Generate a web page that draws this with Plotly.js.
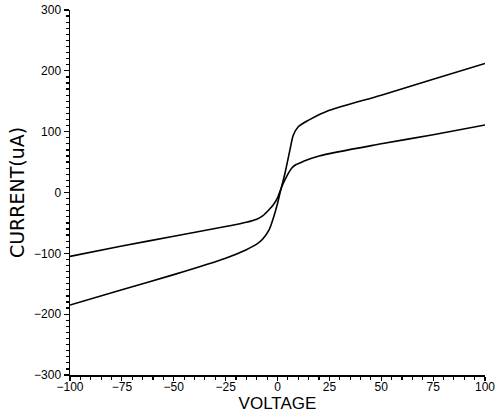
<!DOCTYPE html>
<html><head><meta charset="utf-8">
<script src="https://cdn.plot.ly/plotly-3.0.1.min.js"></script>
<style>html,body{margin:0;padding:0;background:#fff}#chart{width:502px;height:414px}</style>
</head><body><div id="chart"></div>
<script>
// Curve A (steeper, larger swing)
const voltageA = [-100, -75, -50, -25, -15, -10, -7, -4, -2, 0, 1.2, 3.5, 6, 7.6, 10, 15, 25, 50, 75, 100];
const currentA = [-185, -160, -135, -108, -94, -85, -76, -61, -42, -18, -1, 30, 70, 94, 108, 119, 135, 160, 186, 212];
// Curve B (flatter)
const voltageB = [-100, -75, -50, -25, -15, -10, -7, -4, -2, 0, 1.2, 3.6, 6.8, 9, 12.4, 20, 50, 75, 100];
const currentB = [-105, -88, -72, -56, -49, -44, -38, -28, -20, -9, 2, 21, 40, 46, 51, 60, 80, 95, 111];

const xTickVals = [-100, -75, -50, -25, 0, 25, 50, 75, 100];
const xTickText = ['−100', '−75', '−50', '−25', '0', '25', '50', '75', '100'];
const yTickVals = [-300, -200, -100, 0, 100, 200, 300];
const yTickText = ['−300', '−200', '−100', '0', '100', '200', '300'];
const xTitle = 'VOLTAGE';
const yTitle = 'CURRENT(uA)';

const lineStyle = {color: '#000', width: 1.6, shape: 'spline', smoothing: 0.8};
const traces = [
  {x: voltageA, y: currentA, mode: 'lines', line: lineStyle, hoverinfo: 'skip'},
  {x: voltageB, y: currentB, mode: 'lines', line: lineStyle, hoverinfo: 'skip'}
];
const fam = 'Liberation Sans, Arial, sans-serif';
const layout = {
  width: 502, height: 414,
  margin: {l: 70, r: 17, t: 10, b: 39},
  paper_bgcolor: '#fff', plot_bgcolor: '#fff',
  showlegend: false,
  font: {family: fam, color: '#000'},
  xaxis: {
    range: [-100, 100], tickvals: xTickVals, ticktext: xTickText,
    showgrid: false, zeroline: false, showline: true, linecolor: '#000', linewidth: 1.5,
    ticks: 'outside', ticklen: 4, tickcolor: '#000', tickwidth: 1.2,
    ticklabelstandoff: -4,
    minor: {dtick: 5, ticks: 'outside', ticklen: 3, tickcolor: '#000', tickwidth: 1.2, showgrid: false},
    tickfont: {size: 12, family: fam, color: '#000'},
    title: {text: xTitle, font: {size: 17, family: fam, color: '#000'}, standoff: 1}
  },
  yaxis: {
    range: [-300, 300], tickvals: yTickVals, ticktext: yTickText,
    showgrid: false, zeroline: false, showline: true, linecolor: '#000', linewidth: 1.5,
    ticks: 'outside', ticklen: 5, tickcolor: '#000', tickwidth: 1.2,
    minor: {dtick: 10, ticks: 'outside', ticklen: 3, tickcolor: '#000', tickwidth: 1.2, showgrid: false},
    tickfont: {size: 12, family: fam, color: '#000'},
    title: {text: yTitle, font: {size: 19, family: 'DejaVu Sans, sans-serif', color: '#000'}, standoff: 4}
  }
};
Plotly.newPlot('chart', traces, layout, {staticPlot: true, displayModeBar: false});
</script></body></html>
